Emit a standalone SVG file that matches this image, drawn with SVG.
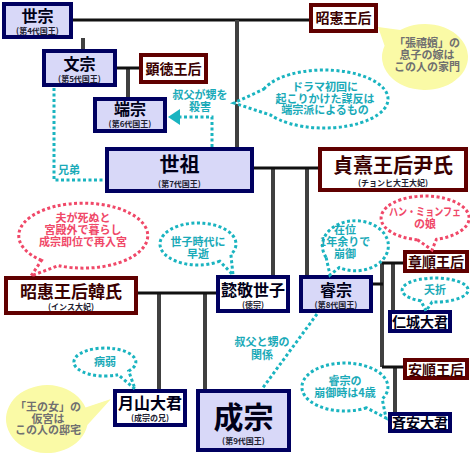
<svg xmlns="http://www.w3.org/2000/svg" width="470" height="457" viewBox="0 0 470 457">
<defs>
<style>
text{font-family:"Noto Sans CJK JP","Noto Sans",sans-serif;font-weight:bold;text-anchor:middle}
.k{fill:#d8d8f8;stroke:#000060;stroke-width:4}
.kw{fill:#fff;stroke:#000060;stroke-width:4}
.q{fill:#fff;stroke:#600000;stroke-width:4}
.nm{fill:#000018}
.qn{fill:#3a0000}
.sub{font-size:8px;fill:#202030}
.h{stroke:#111;stroke-width:3;fill:none}
.v{stroke:#404040;stroke-width:4;fill:none}
.dot{stroke:#1ab4c0;stroke-width:3;stroke-dasharray:3 2.5;fill:none}
.bt{fill:#fff;stroke:#1ab4c0;stroke-width:3;stroke-dasharray:3 2.5}
.br{fill:#fff;stroke:#f04868;stroke-width:3;stroke-dasharray:3 2.5}
.by{fill:#fafaa6;stroke:none}
.tt{fill:#1aaab8;font-size:11px}
.tr{fill:#f04868;font-size:11px}
.ty{fill:#707070;font-size:11px}
</style>
</defs>
<rect width="470" height="457" fill="#fff"/>
<g id="connectors">
<path class="h" d="M73 20H309"/>
<path class="v" d="M83 38V49M237 20V147M128 68V97M273 168V275M307 168V275M159 293V389M205 293V389M382 263V367M393 263V311M395 367V412"/>
<path class="h" d="M117 68H139M254 168H318M138 293H216M373 284H383M382 263H403M382 367H403"/>
<path class="dot" d="M54 88V180H105"/>
<path class="dot" d="M212 147V117H180"/>
<polygon points="168,117 180,109 180,125" fill="#1ab4c0"/>
<path class="dot" d="M317 314L262 389"/>
</g>
<g id="n-sejong"><rect class="k" x="4" y="4" width="67" height="33"/><text class="nm" x="37.5" y="22" font-size="16">世宗</text><text class="sub" x="37.5" y="33.5">(第4代国王)</text></g>
<g id="n-munjong"><rect class="k" x="44" y="51" width="71" height="34"/><text class="nm" x="79.5" y="70" font-size="16">文宗</text><text class="sub" x="79.5" y="81.5">(第5代国王)</text></g>
<g id="n-hyeondeok"><rect class="q" x="141" y="55" width="65" height="27"/><text class="qn" x="173.5" y="74" font-size="14">顕徳王后</text></g>
<g id="n-danjong"><rect class="k" x="95" y="99" width="70" height="32"/><text class="nm" x="130" y="115" font-size="16">端宗</text><text class="sub" x="130" y="126.5">(第6代国王)</text></g>
<g id="n-soheon"><rect class="q" x="311" y="5" width="65" height="26"/><text class="qn" x="343.5" y="23" font-size="14">昭憲王后</text></g>
<g id="n-sejo"><rect class="k" x="107" y="149" width="145" height="42" stroke-width="4.5"/><text class="nm" x="179.5" y="172" font-size="20">世祖</text><text class="sub" x="179.5" y="186.5">(第7代国王)</text></g>
<g id="n-jeonghui"><rect class="q" x="320" y="149" width="146" height="41"/><text class="qn" x="393" y="173" font-size="20">貞熹王后尹氏</text><text class="sub" x="393" y="185.5">(チョンヒ大王大妃)</text></g>
<g id="n-sohye"><rect class="q" x="6" y="278" width="130" height="35"/><text class="qn" x="71" y="298" font-size="17">昭惠王后韓氏</text><text class="sub" x="71" y="309.5">(インス大妃)</text></g>
<g id="n-uigyeong"><rect class="kw" x="218" y="277" width="70" height="34"/><text class="nm" x="253" y="296" font-size="16">懿敬世子</text><text class="sub" x="253" y="307.5">(徳宗)</text></g>
<g id="n-yejong"><rect class="k" x="301" y="277" width="70" height="34"/><text class="nm" x="336" y="296" font-size="16">睿宗</text><text class="sub" x="336" y="307.5">(第8代国王)</text></g>
<g id="n-wolsan"><rect class="kw" x="115" y="391" width="70" height="34"/><text class="nm" x="150" y="409" font-size="16">月山大君</text><text class="sub" x="150" y="421">(成宗の兄)</text></g>
<g id="n-seongjong"><rect class="k" x="198" y="391" width="91" height="59"/><text class="nm" x="243.5" y="428" font-size="30">成宗</text><text class="sub" x="243.5" y="443.5">(第9代国王)</text></g>
<g id="n-jangsun"><rect class="q" x="405" y="252" width="62" height="19" stroke-width="3.5"/><text class="qn" x="436" y="267" font-size="14">章順王后</text></g>
<g id="n-inseong"><rect class="kw" x="390" y="312" width="60" height="19" stroke-width="3.5"/><text class="nm" x="420" y="327" font-size="14">仁城大君</text></g>
<g id="n-ansun"><rect class="q" x="405" y="360" width="62" height="18" stroke-width="3.5"/><text class="qn" x="436" y="375" font-size="14">安順王后</text></g>
<g id="n-jean"><rect class="kw" x="390" y="414" width="60" height="17" stroke-width="3.5"/><text class="nm" x="420" y="428" font-size="14">斉安大君</text></g>
<g id="labels">
<text class="tt" x="69" y="174">兄弟</text>
<text class="tt" x="200" y="99">叔父が甥を</text>
<text class="tt" x="200" y="111">殺害</text>
<g stroke="#fff" stroke-width="3" paint-order="stroke"><text class="tt" x="262" y="346">叔父と甥の</text><text class="tt" x="262" y="359">関係</text></g>
</g>
<g id="b-zhang"><path class="by" d="M400.3 30A43 33 0 1 1 384.6 45.7L378 27Z"/><text class="ty" x="427" y="47">「張禧嬪」の</text><text class="ty" x="427" y="59">息子の嫁は</text><text class="ty" x="427" y="71">この人の家門</text></g>
<g id="b-drama"><path class="bt" d="M263.9 89.1A64 29 0 1 1 270.9 115.2L234 103Z"/><text class="tt" x="325" y="91">ドラマ初回に</text><text class="tt" x="325" y="102.5">起こりかけた謀反は</text><text class="tt" x="325" y="114">端宗派によるもの</text></g>
<g id="b-husband"><path class="br" d="M41.5 260.4A64.5 32.5 0 1 1 58.3 265.6L31 276Z"/><text class="tr" x="83" y="222">夫が死ぬと</text><text class="tr" x="83" y="234">宮殿外で暮らし</text><text class="tr" x="83" y="246" font-size="11.5">成宗即位で再入宮</text></g>
<g id="b-seja"><path class="bt" d="M219.8 261.2A38 21 0 1 1 230.9 254.5L233 275Z"/><text class="tt" x="198" y="246">世子時代に</text><text class="tt" x="198" y="257.5">早逝</text></g>
<g id="b-reign"><path class="bt" d="M326.1 257.3A33 25 0 1 1 339.3 267.6L330 275Z"/><text class="tt" x="345" y="234">在位</text><text class="tt" x="345" y="246">1年余りで</text><text class="tt" x="345" y="258">崩御</text></g>
<g id="b-han"><path class="br" d="M417.4 239.7A44 22 0 1 1 436.4 239.3L432 250Z"/><text class="tr" x="425" y="216" font-size="10.5" textLength="72" lengthAdjust="spacingAndGlyphs">ハン・ミョンフェ</text><text class="tr" x="425" y="228">の娘</text></g>
<g id="b-yojeol"><path class="bt" d="M421 300.9A33 12 0 1 1 432.1 302L426 311Z"/><text class="tt" x="435" y="294">夭折</text></g>
<g id="b-age"><path class="bt" d="M366.5 407.8A43 24 0 1 1 382.2 399L386 418Z"/><text class="tt" x="345" y="385">睿宗の</text><text class="tt" x="345" y="397">崩御時は4歳</text></g>
<g id="b-weak"><path class="bt" d="M118.1 374.7A31 14 0 1 1 128.7 371L135 389Z"/><text class="tt" x="105" y="366">病弱</text></g>
<g id="b-palace"><path class="by" d="M87.4 424.9A41 34 0 1 1 85.5 407.4L111 399Z"/><text class="ty" x="48" y="411">「王の女」の</text><text class="ty" x="48" y="422.5">仮宮は</text><text class="ty" x="48" y="434">この人の邸宅</text></g>
</svg>
